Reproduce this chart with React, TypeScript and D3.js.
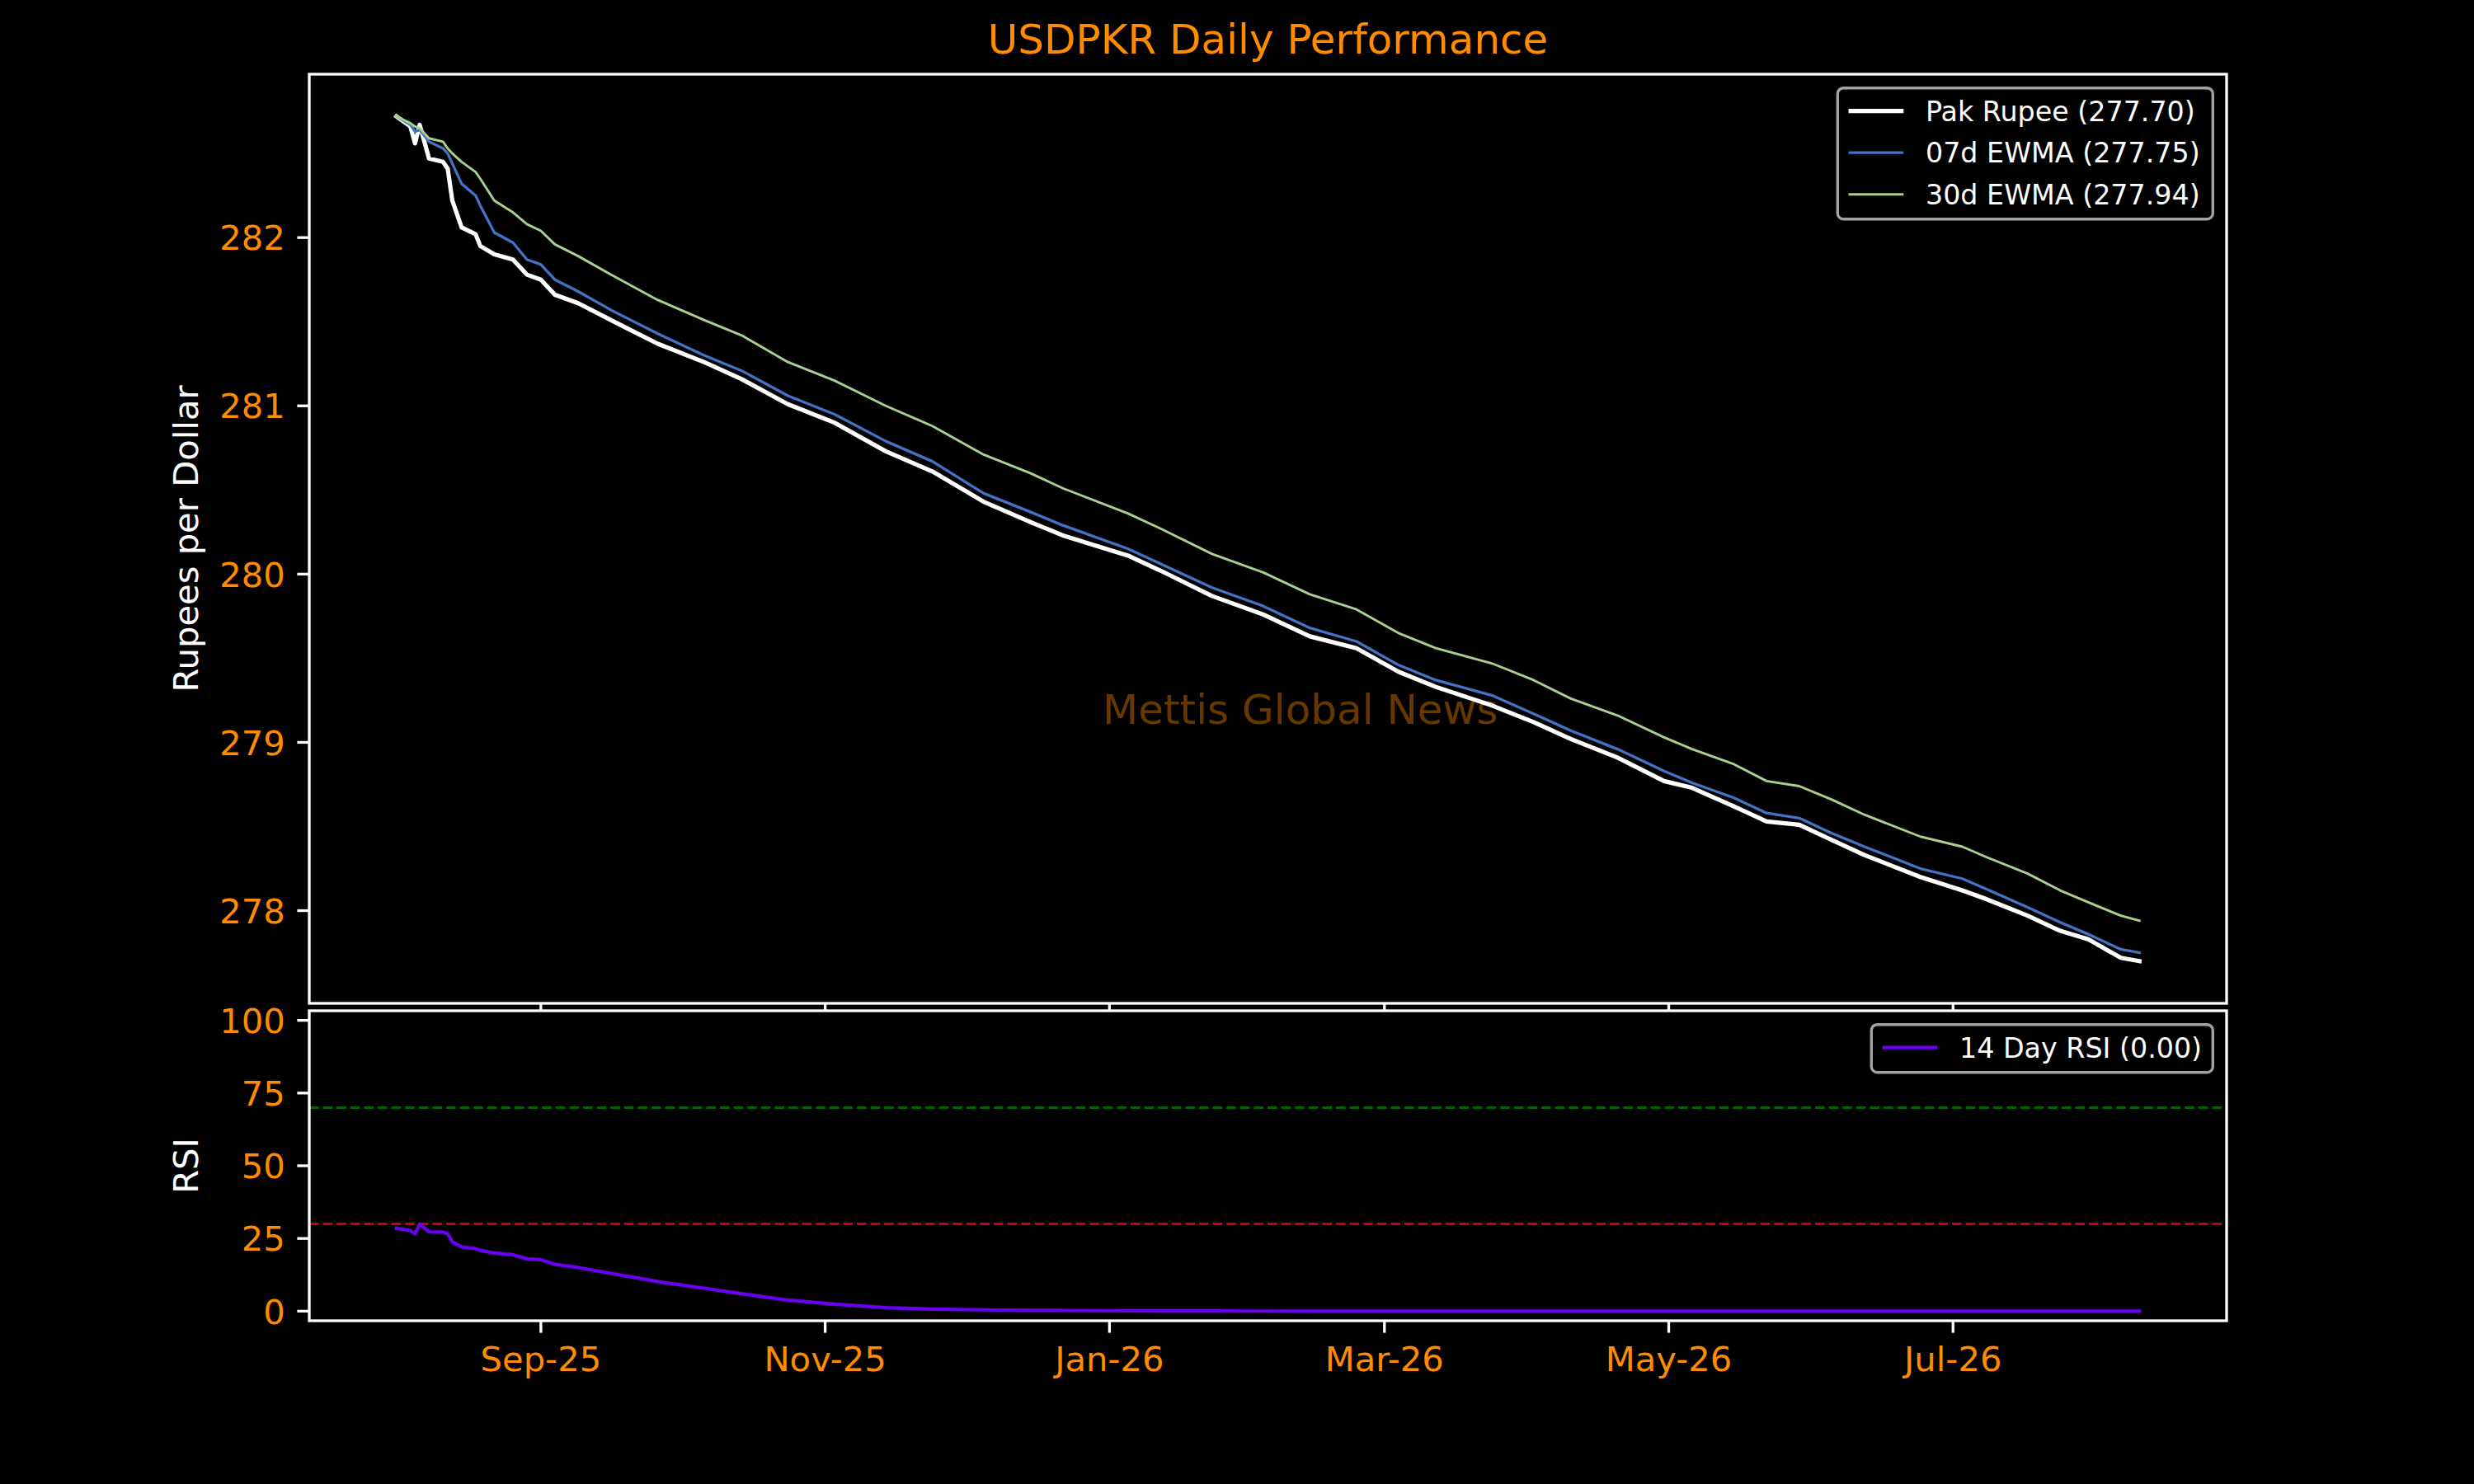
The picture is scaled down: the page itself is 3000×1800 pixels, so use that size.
import { useEffect } from 'react';
import * as d3 from 'd3';

// Daily USDPKR series
const dates = [
  '2025-08-01', '2025-08-04', '2025-08-05', '2025-08-06', '2025-08-08', '2025-08-11',
  '2025-08-12', '2025-08-13', '2025-08-15', '2025-08-18', '2025-08-19', '2025-08-22',
  '2025-08-26', '2025-08-29', '2025-09-01', '2025-09-04', '2025-09-09', '2025-09-16',
  '2025-09-26', '2025-10-06', '2025-10-14', '2025-10-24', '2025-11-03', '2025-11-14',
  '2025-11-24', '2025-12-05', '2025-12-15', '2025-12-22', '2026-01-05', '2026-01-12',
  '2026-01-23', '2026-02-03', '2026-02-13', '2026-02-23', '2026-03-04', '2026-03-12',
  '2026-03-24', '2026-04-02', '2026-04-10', '2026-04-20', '2026-04-30', '2026-05-06',
  '2026-05-15', '2026-05-22', '2026-05-29', '2026-06-05', '2026-06-12', '2026-06-24',
  '2026-07-03', '2026-07-08', '2026-07-17', '2026-07-24', '2026-07-30', '2026-08-06',
  '2026-08-10',
];

const pakRupee = [
  282.72, 282.66, 282.56, 282.67, 282.47, 282.45,
  282.41, 282.22, 282.06, 282.02, 281.95, 281.90,
  281.87, 281.78, 281.75, 281.66, 281.61, 281.51,
  281.37, 281.26, 281.16, 281.01, 280.90, 280.73,
  280.61, 280.43, 280.31, 280.23, 280.11, 280.02,
  279.87, 279.76, 279.63, 279.56, 279.42, 279.33,
  279.22, 279.12, 279.02, 278.91, 278.77, 278.73,
  278.62, 278.53, 278.51, 278.42, 278.33, 278.20,
  278.12, 278.07, 277.97, 277.88, 277.83, 277.72,
  277.70,
];

const ewma07 = [
  282.72, 282.67, 282.63, 282.64, 282.57, 282.53,
  282.50, 282.44, 282.32, 282.25, 282.19, 282.03,
  281.97, 281.87, 281.84, 281.75, 281.68, 281.57,
  281.43, 281.30, 281.21, 281.06, 280.95, 280.79,
  280.67, 280.48, 280.37, 280.29, 280.15, 280.06,
  279.92, 279.81, 279.68, 279.60, 279.46, 279.37,
  279.28, 279.17, 279.07, 278.96, 278.83, 278.76,
  278.67, 278.58, 278.55, 278.46, 278.38, 278.25,
  278.19, 278.13, 278.02, 277.93, 277.86, 277.77,
  277.75,
];

const ewma30 = [
  282.72, 282.68, 282.66, 282.65, 282.59, 282.57,
  282.53, 282.50, 282.45, 282.39, 282.35, 282.22,
  282.15, 282.08, 282.04, 281.96, 281.89, 281.78,
  281.63, 281.51, 281.42, 281.26, 281.15, 281.00,
  280.88, 280.71, 280.60, 280.51, 280.36, 280.27,
  280.12, 280.01, 279.88, 279.79, 279.65, 279.56,
  279.47, 279.37, 279.26, 279.16, 279.03, 278.96,
  278.87, 278.77, 278.74, 278.66, 278.57, 278.44,
  278.38, 278.32, 278.22, 278.12, 278.05, 277.97,
  277.94,
];

const rsi14 = [
  28.5, 27.7, 26.6, 30.0, 27.3, 27.2,
  26.6, 23.8, 22.1, 21.5, 20.9, 20.0,
  19.4, 18.0, 17.7, 16.1, 15.0, 13.0,
  10.2, 7.9, 6.0, 3.8, 2.4, 1.2,
  0.7, 0.45, 0.3, 0.22, 0.1, 0.08,
  0.05, 0.03, 0.02, 0.01, 0, 0,
  0, 0, 0, 0, 0, 0,
  0, 0, 0, 0, 0, 0,
  0, 0, 0, 0, 0, 0,
  0,
];

const monthTicks = ['2025-09-01', '2025-11-01', '2026-01-01', '2026-03-01', '2026-05-01', '2026-07-01'];
const priceTicks = [278, 279, 280, 281, 282];
const rsiTicks = [0, 25, 50, 75, 100];
const rsiLevels = [
  { value: 70, color: '#006400' },
  { value: 30, color: '#cc0000' },
];

const W = 3000;
const H = 1800;
const left = 375;
const right = 2700;
const mainTop = 90;
const mainBottom = 1217;
const rsiTop = 1226;
const rsiBottom = 1602;

const ORANGE = '#ff8c00';
const FONT = '"DejaVu Sans", Verdana, sans-serif';
const TICK = 14.6;
const PAD = 14.6;
const TICK_FS = 41.7;
const LEG_FS = 33.3;

type Row = { label: string; color: string; width: number };

const Legend = ({ right: r, top, rows, boxWidth }: { right: number; top: number; rows: Row[]; boxWidth: number }) => {
  const x0 = r - boxWidth;
  const h = 58 + (rows.length - 1) * 50.5;
  return (
    <g>
      <rect x={x0} y={top} width={boxWidth} height={h} rx={7} ry={7}
        fill="#000" fillOpacity={0.8} stroke="#cccccc" strokeOpacity={0.8} strokeWidth={3.4} />
      {rows.map((row, i) => {
        const cy = top + 28 + i * 50.5;
        return (
          <g key={row.label}>
            <line x1={x0 + 13.3} x2={x0 + 80} y1={cy} y2={cy} stroke={row.color} strokeWidth={row.width} />
            <text x={x0 + 106.7} y={cy} dy="0.365em" fill="#fff" fontSize={LEG_FS} fontFamily={FONT}>
              {row.label}
            </text>
          </g>
        );
      })}
    </g>
  );
};

export default function App() {
  useEffect(() => {
    document.body.style.margin = '0';
    document.body.style.background = '#000';
  }, []);

  const parsed = dates.map((d) => new Date(d + 'T00:00:00Z'));
  const [d0, d1] = d3.extent(parsed) as [Date, Date];
  const span = +d1 - +d0;
  const x = d3.scaleUtc()
    .domain([new Date(+d0 - span * 0.05), new Date(+d1 + span * 0.05)])
    .range([left, right]);

  const all = [...pakRupee, ...ewma07, ...ewma30];
  const lo = d3.min(all) as number;
  const hi = d3.max(all) as number;
  const yPad = (hi - lo) * 0.05;
  const y = d3.scaleLinear().domain([lo - yPad, hi + yPad]).range([mainBottom, mainTop]);
  const yr = d3.scaleLinear().domain([-3.3, 103.3]).range([rsiBottom, rsiTop]);

  const mkLine = (vals: number[], sy: d3.ScaleLinear<number, number>) =>
    d3.line<number>()
      .x((_, i) => x(parsed[i]))
      .y((v) => sy(v))
      .curve(d3.curveLinear)(vals) as string;

  const fmt = d3.utcFormat('%b-%y');
  const ticks = monthTicks.map((d) => new Date(d + 'T00:00:00Z'));

  const series = [
    { label: `Pak Rupee (${pakRupee[pakRupee.length - 1].toFixed(2)})`, vals: pakRupee, color: '#ffffff', width: 5.2 },
    { label: `07d EWMA (${ewma07[ewma07.length - 1].toFixed(2)})`, vals: ewma07, color: '#4472c4', width: 3.3 },
    { label: `30d EWMA (${ewma30[ewma30.length - 1].toFixed(2)})`, vals: ewma30, color: '#a9d18e', width: 2.9 },
  ];
  const rsiColor = '#6a00f0';

  return (
    <svg width={W} height={H} viewBox={`0 0 ${W} ${H}`} style={{ display: 'block', background: '#000' }}>
      <rect x={0} y={0} width={W} height={H} fill="#000" />
      <defs>
        <clipPath id="clipMain"><rect x={left} y={mainTop} width={right - left} height={mainBottom - mainTop} /></clipPath>
        <clipPath id="clipRsi"><rect x={left} y={rsiTop} width={right - left} height={rsiBottom - rsiTop} /></clipPath>
      </defs>

      {/* title */}
      <text x={(left + right) / 2} y={65} textAnchor="middle" fill={ORANGE} fontSize={50} fontFamily={FONT}>
        USDPKR Daily Performance
      </text>

      {/* main panel */}
      <g>
        {priceTicks.map((t) => (
          <g key={t}>
            <line x1={left - TICK} x2={left} y1={y(t)} y2={y(t)} stroke="#fff" strokeWidth={3.3} />
            <text x={left - TICK - PAD} y={y(t)} dy="0.365em" textAnchor="end" fill={ORANGE} fontSize={TICK_FS} fontFamily={FONT}>
              {t}
            </text>
          </g>
        ))}
        {ticks.map((t) => (
          <line key={+t} x1={x(t)} x2={x(t)} y1={mainBottom} y2={mainBottom + TICK} stroke="#fff" strokeWidth={3.3} />
        ))}
        <text transform={`translate(240,${(mainTop + mainBottom) / 2}) rotate(-90)`} textAnchor="middle"
          fill="#fff" fontSize={TICK_FS} fontFamily={FONT}>
          Rupees per Dollar
        </text>
        <text x={left + (right - left) * 0.4138} y={878} fill={ORANGE} fillOpacity={0.4} fontSize={50} fontFamily={FONT}>
          Mettis Global News
        </text>
        <g clipPath="url(#clipMain)">
          {series.map((s) => (
            <path key={s.label} d={mkLine(s.vals, y)} fill="none" stroke={s.color} strokeWidth={s.width}
              strokeLinejoin="round" strokeLinecap="square" />
          ))}
        </g>
        <rect x={left} y={mainTop} width={right - left} height={mainBottom - mainTop} fill="none" stroke="#fff" strokeWidth={3.3} />
        <Legend right={right - 16.7} top={mainTop + 16.7} boxWidth={455}
          rows={series.map((s) => ({ label: s.label, color: s.color, width: s.width }))} />
      </g>

      {/* RSI panel */}
      <g>
        <rect x={left} y={rsiTop} width={right - left} height={rsiBottom - rsiTop} fill="#000" />
        {rsiTicks.map((t) => (
          <g key={t}>
            <line x1={left - TICK} x2={left} y1={yr(t)} y2={yr(t)} stroke="#fff" strokeWidth={3.3} />
            <text x={left - TICK - PAD} y={yr(t)} dy="0.365em" textAnchor="end" fill={ORANGE} fontSize={TICK_FS} fontFamily={FONT}>
              {t}
            </text>
          </g>
        ))}
        {ticks.map((t) => (
          <g key={+t}>
            <line x1={x(t)} x2={x(t)} y1={rsiBottom} y2={rsiBottom + TICK} stroke="#fff" strokeWidth={3.3} />
            <text x={x(t)} y={rsiBottom + 61} textAnchor="middle" fill={ORANGE} fontSize={TICK_FS} fontFamily={FONT}>
              {fmt(t)}
            </text>
          </g>
        ))}
        <text transform={`translate(240,${(rsiTop + rsiBottom) / 2}) rotate(-90)`} textAnchor="middle"
          fill="#fff" fontSize={TICK_FS} fontFamily={FONT}>
          RSI
        </text>
        <g clipPath="url(#clipRsi)">
          {rsiLevels.map((l) => (
            <line key={l.value} x1={left} x2={right} y1={yr(l.value)} y2={yr(l.value)}
              stroke={l.color} strokeWidth={3.1} strokeDasharray="11.6,5" />
          ))}
          <path d={mkLine(rsi14, yr)} fill="none" stroke={rsiColor} strokeWidth={4.2}
            strokeLinejoin="round" strokeLinecap="square" />
        </g>
        <rect x={left} y={rsiTop} width={right - left} height={rsiBottom - rsiTop} fill="none" stroke="#fff" strokeWidth={3.3} />
        <Legend right={right - 16.7} top={rsiTop + 16.7} boxWidth={414}
          rows={[{ label: `14 Day RSI (${rsi14[rsi14.length - 1].toFixed(2)})`, color: rsiColor, width: 4.2 }]} />
      </g>
    </svg>
  );
}
